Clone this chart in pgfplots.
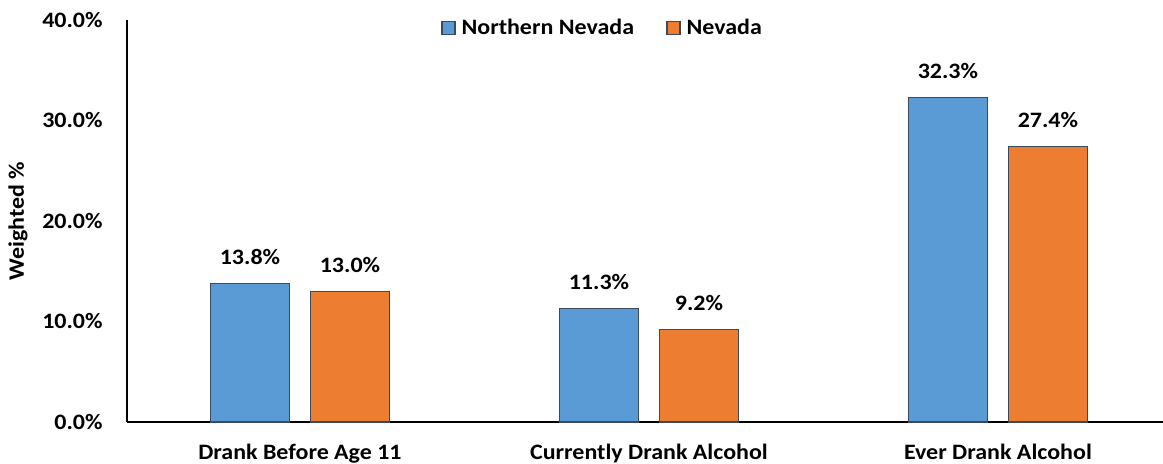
\documentclass[border=0pt]{standalone}
\usepackage{fontspec}
\setmainfont{Carlito}[FakeStretch=1.09]
\usepackage{pgfplots}
\pgfplotsset{compat=1.18}

\definecolor{nnblue}{HTML}{5B9BD5}
\definecolor{nvorange}{HTML}{ED7D31}
\definecolor{baredge}{HTML}{3A4A5C}

% 1 px of the reference = 0.5pt
\begin{document}
\begin{tikzpicture}
\begin{axis}[
  scale only axis,
  width=518pt,
  height=201pt,
  ybar=10.5pt,
  bar width=39.5pt,
  xmin=-0.4957, xmax=2.473,
  ymin=0, ymax=40,
  xtick=data,
  xticklabels={Drank Before Age 11,Currently Drank Alcohol,Ever Drank Alcohol},
  ytick={0,10,20,30,40},
  yticklabel={\pgfmathprintnumber[fixed,fixed zerofill,precision=1]{\tick}\%},
  /pgf/number format/assume math mode=true,
  axis lines*=left,
  axis line style={black, line width=1pt},
  major tick length=0pt,
  font=\fontsize{11}{13}\selectfont\bfseries,
  every tick label/.append style={font=\fontsize{11}{13}\selectfont\bfseries, inner sep=0pt},
  yticklabel style={anchor=east, xshift=-12pt},
  xticklabel style={anchor=base, yshift=-18.5pt},
  ylabel={Weighted \%},
  ylabel style={at={(axis description cs:0,0.5)}, anchor=center, yshift=54.5pt, font=\fontsize{11}{13}\selectfont\bfseries},
  nodes near coords={\pgfmathprintnumber[fixed,fixed zerofill,precision=1]{\pgfplotspointmeta}\%},
  every node near coord/.append style={font=\fontsize{11}{13}\selectfont\bfseries, anchor=base, inner sep=0pt, yshift=9.5pt, black},
  legend style={at={(axis description cs:0.458,0.98)}, anchor=center, draw=none, fill=none,
    legend columns=2, font=\fontsize{11}{13}\selectfont\bfseries,
    /tikz/every even column/.append style={column sep=16pt},
    inner sep=0pt, nodes={inner sep=0pt, anchor=west}},
  legend image code/.code={\draw[#1, draw=baredge, line width=0.75pt] (0pt,-3.25pt) rectangle (6.5pt,3.25pt);},
  clip=false,
]
\addplot[fill=nnblue, draw=baredge, line width=0.75pt] coordinates {(0,13.8) (1,11.3) (2,32.3)};
\addplot[fill=nvorange, draw=baredge, line width=0.75pt] coordinates {(0,13.0) (1,9.2) (2,27.4)};
\legend{\hspace{3pt}Northern Nevada,\hspace{3pt}Nevada}
\coordinate (bl) at (rel axis cs:0,0);
\coordinate (tr) at (rel axis cs:1,1);
\end{axis}
\pgfresetboundingbox
\path ([shift={(-63.5pt,-21pt)}]bl) rectangle ([shift={(0pt,10pt)}]tr);
\end{tikzpicture}
\end{document}
